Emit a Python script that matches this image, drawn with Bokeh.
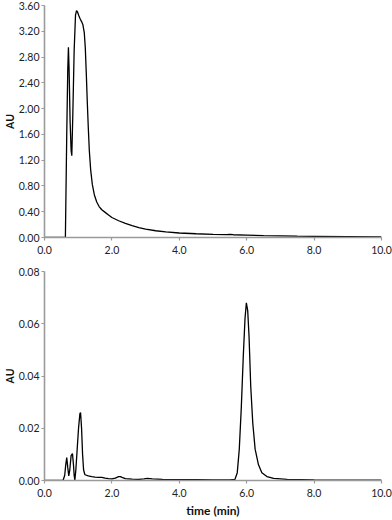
from bokeh.plotting import figure
from bokeh.layouts import column
from bokeh.models import Range1d, FixedTicker, NumeralTickFormatter
from bokeh.embed import file_html
from bokeh.resources import INLINE

# Top chromatogram (AU vs time)
top_time = [0, 0.55, 0.62, 0.66, 0.69, 0.71, 0.73, 0.76, 0.79, 0.81, 0.84, 0.88, 0.92, 0.95,
            0.98, 1.02, 1.06, 1.10, 1.14, 1.18, 1.21, 1.24, 1.27, 1.30, 1.33, 1.37, 1.42, 1.48,
            1.55, 1.62, 1.70, 1.80, 1.90, 2.0, 2.2, 2.4, 2.6, 2.8, 3.0, 3.3, 3.6, 4.0, 4.5, 5.0,
            5.4, 5.5, 5.6, 6.0, 6.5, 7.0, 7.5, 8.0, 9.0, 10.0]
top_au = [0, 0, 0, 1.6, 2.6, 2.95, 2.6, 1.8, 1.35, 1.27, 1.9, 2.9, 3.45, 3.52,
          3.50, 3.44, 3.39, 3.35, 3.30, 3.18, 2.95, 2.55, 2.1, 1.7, 1.35, 1.05, 0.82, 0.66,
          0.55, 0.48, 0.43, 0.39, 0.35, 0.31, 0.26, 0.22, 0.185, 0.155, 0.13, 0.105, 0.088, 0.07, 0.058, 0.05,
          0.045, 0.05, 0.043, 0.037, 0.03, 0.025, 0.02, 0.017, 0.012, 0.008]

# Bottom chromatogram
bot_time = [0, 0.55, 0.60, 0.63, 0.66, 0.69, 0.72, 0.75, 0.79, 0.83, 0.86, 0.88, 0.90, 0.93,
            0.97, 1.01, 1.05, 1.07, 1.10, 1.13, 1.16, 1.20, 1.30, 1.40, 1.50, 1.60, 1.70, 1.80,
            1.90, 2.00, 2.10, 2.20, 2.25, 2.30, 2.40, 2.60, 2.80, 2.95, 3.05, 3.20, 3.50, 4.00,
            4.50, 5.00, 5.50, 5.65, 5.72, 5.78, 5.84, 5.90, 5.95, 5.99, 6.03, 6.07, 6.12, 6.18,
            6.25, 6.35, 6.45, 6.60, 6.80, 7.20, 8.00, 9.00, 10.0]
bot_au = [0, 0, 0.002, 0.006, 0.0088, 0.005, 0.0018, 0.004, 0.0095, 0.0103, 0.006, 0.002, 0.0, 0.004,
          0.012, 0.020, 0.0255, 0.026, 0.020, 0.010, 0.004, 0.0022, 0.0018, 0.0015, 0.0013, 0.0012, 0.0012, 0.0009,
          0.0007, 0.0006, 0.0009, 0.0015, 0.0015, 0.0012, 0.0007, 0.0005, 0.0004, 0.0006, 0.0008, 0.0006, 0.0004, 0.0003,
          0.0003, 0.0002, 0.0002, 0.0004, 0.003, 0.012, 0.028, 0.048, 0.062, 0.068, 0.065, 0.055, 0.036, 0.022,
          0.012, 0.006, 0.003, 0.0015, 0.0008, 0.0004, 0.0002, 0.0001, 0.0001]

x_ticks = [0, 2, 4, 6, 8, 10]
top_y_ticks = [0, 0.4, 0.8, 1.2, 1.6, 2.0, 2.4, 2.8, 3.2, 3.6]
bot_y_ticks = [0, 0.02, 0.04, 0.06, 0.08]

FONT = "Lato"
AXIS_COL = "#9a9a9a"


def style(p, yticks, yfmt, xlabel=None):
    p.xgrid.visible = False
    p.ygrid.visible = False
    p.outline_line_color = None
    p.xaxis.ticker = FixedTicker(ticks=x_ticks)
    p.yaxis.ticker = FixedTicker(ticks=yticks)
    p.xaxis.formatter = NumeralTickFormatter(format="0.0")
    p.yaxis.formatter = NumeralTickFormatter(format=yfmt)
    for ax in (p.xaxis, p.yaxis):
        ax.axis_line_color = AXIS_COL
        ax.axis_line_width = 1.6
        ax.major_tick_line_color = AXIS_COL
        ax.major_tick_line_width = 1.2
        ax.major_tick_out = 3
        ax.major_tick_in = 0
        ax.minor_tick_line_color = None
        ax.major_label_text_font = FONT
        ax.major_label_text_font_size = "10.5px"
        ax.major_label_text_color = "#222222"
        ax.axis_label_text_font = FONT
        ax.axis_label_text_font_size = "10.5px"
        ax.axis_label_text_font_style = "bold"
        ax.axis_label_text_color = "#111111"
    p.yaxis.major_label_standoff = 2
    p.xaxis.major_label_standoff = 5
    p.yaxis.axis_label = "AU"
    p.yaxis.axis_label_standoff = 0
    if xlabel:
        p.xaxis.axis_label = xlabel
        p.xaxis.axis_label_standoff = 3
        p.xaxis.axis_label_text_font_size = "12px"


p1 = figure(width=392, height=259, output_backend="svg", toolbar_location=None,
            x_range=Range1d(0, 10), y_range=Range1d(0, 3.6),
            min_border_left=43, min_border_right=11, min_border_top=5, min_border_bottom=22)
p1.line(top_time, top_au, line_color="black", line_width=1.3)
style(p1, top_y_ticks, "0.00")

p2 = figure(width=392, height=261, output_backend="svg", toolbar_location=None,
            x_range=Range1d(0, 10), y_range=Range1d(0, 0.08),
            min_border_left=43, min_border_right=11, min_border_top=12, min_border_bottom=36)
p2.line(bot_time, bot_au, line_color="black", line_width=1.3)
style(p2, bot_y_ticks, "0.00", xlabel="time (min)")

for p in (p1, p2):
    p.background_fill_color = "white"
    p.border_fill_color = "white"

layout = column(p1, p2, spacing=0)
open("out.html", "w").write(file_html(layout, INLINE))
